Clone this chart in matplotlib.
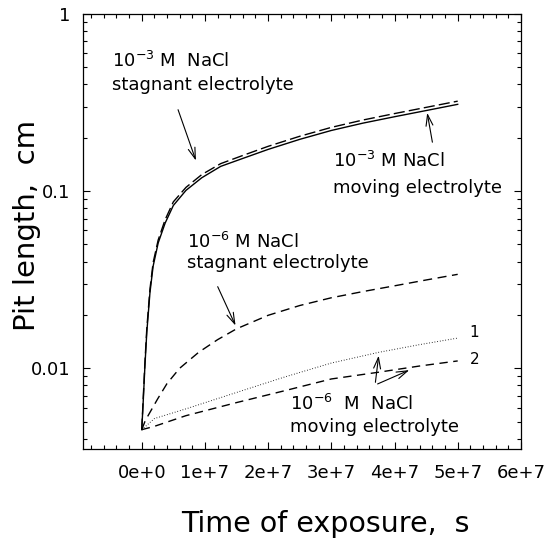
import matplotlib
matplotlib.use("Agg")
import matplotlib.pyplot as plt
from matplotlib.ticker import MultipleLocator, NullFormatter, LogLocator

# 曲線データ
t_1e3 = [0, 2.5e5, 5e5, 8e5, 1.3e6, 1.8e6, 2.6e6, 3.7e6, 5e6, 7e6, 9.5e6,
         1.25e7, 1.6e7, 2e7, 2.5e7, 3e7, 3.5e7, 4e7, 4.5e7, 5e7]
L_1e3_moving = [0.0045, 0.0067, 0.0103, 0.016, 0.0268, 0.0377, 0.051, 0.066,
                0.083, 0.101, 0.119, 0.138, 0.153, 0.172, 0.196, 0.220,
                0.242, 0.263, 0.285, 0.309]
L_1e3_stagnant = [0.0045, 0.0070, 0.0108, 0.0168, 0.028, 0.0395, 0.053, 0.069,
                  0.087, 0.105, 0.124, 0.143, 0.159, 0.179, 0.204, 0.229,
                  0.252, 0.274, 0.297, 0.322]

t_1e6_stag = [0, 5e5, 1e6, 2.5e6, 4e6, 6e6, 9e6, 1.2e7, 1.5e7, 2e7, 2.5e7, 3e7,
              3.5e7, 4e7, 4.5e7, 5e7]
L_1e6_stagnant = [0.0045, 0.0050, 0.0054, 0.0067, 0.0082, 0.0100, 0.0123, 0.0145,
                  0.0167, 0.0199, 0.0226, 0.0250, 0.0271, 0.0292, 0.0315, 0.0339]

t_1e6_mov = [0, 2e6, 7e6, 1.5e7, 2.25e7, 3e7, 3.75e7, 4.4e7, 5e7]
L_1e6_moving_1 = [0.0045, 0.0052, 0.0059, 0.0073, 0.0089, 0.0107, 0.0123, 0.0136, 0.0148]
L_1e6_moving_2 = [0.0045, 0.0047, 0.0054, 0.0064, 0.00745, 0.0087, 0.0095, 0.0103, 0.0110]

xticks = [0, 1e7, 2e7, 3e7, 4e7, 5e7, 6e7]
xtick_labels = ['0e+0', '1e+7', '2e+7', '3e+7', '4e+7', '5e+7', '6e+7']
yticks = [0.01, 0.1, 1]
ytick_labels = ['0.01', '0.1', '1']

# フォント設定
plt.rcParams['font.family'] = ['DejaVu Sans']
plt.rcParams['mathtext.fontset'] = 'dejavusans'

fig = plt.figure(figsize=(5.46, 5.38), dpi=100)
ax = fig.add_axes([0.152, 0.1654, 0.802, 0.8086])

ax.plot(t_1e3, L_1e3_moving, color='black', lw=1.0)
ax.plot(t_1e3, L_1e3_stagnant, color='black', lw=1.0, dashes=(8, 3))
ax.plot(t_1e6_stag, L_1e6_stagnant, color='black', lw=1.0, dashes=(6.5, 4))
ax.plot(t_1e6_mov, L_1e6_moving_1, color='black', lw=0.7, dashes=(0.8, 2))
ax.plot(t_1e6_mov, L_1e6_moving_2, color='black', lw=1.0, dashes=(6, 4))

ax.set_yscale('log')
ax.set_xlim(-0.93e7, 6e7)
ax.set_ylim(0.0035, 1)

ax.set_xticks(xticks, xtick_labels)
ax.xaxis.set_minor_locator(MultipleLocator(2e6))
ax.set_yticks(yticks, ytick_labels)
ax.yaxis.set_minor_locator(LogLocator(base=10, subs=range(2, 10)))
ax.yaxis.set_minor_formatter(NullFormatter())

ax.tick_params(which='both', direction='in', top=True, right=True, width=0.8)
ax.tick_params(which='major', length=5, labelsize=13)
ax.tick_params(axis='x', which='major', pad=11)
ax.tick_params(axis='y', which='major', pad=9)
ax.tick_params(which='minor', length=3)
for s in ax.spines.values():
    s.set_linewidth(0.9)

ax.set_xlabel('Time of exposure,  s', fontsize=20.5)
ax.set_ylabel('Pit length,  cm', fontsize=21)
ax.xaxis.set_label_coords(0.553, -0.14)
ax.yaxis.set_label_coords(-0.096, 0.515)

# 注釈
tk = dict(transform=ax.transAxes, fontsize=13, va='baseline', ha='left')
ax.text(0.066, 0.878, '10$^{-3}$ M  NaCl', **tk)
ax.text(0.066, 0.825, 'stagnant electrolyte', **tk)
ax.text(0.571, 0.648, '10$^{-3}$ M NaCl', **tk)
ax.text(0.571, 0.589, 'moving electrolyte', **tk)
ax.text(0.237, 0.461, '10$^{-6}$ M NaCl', **tk)
ax.text(0.237, 0.417, 'stagnant electrolyte', **tk)
ax.text(0.473, 0.090, '10$^{-6}$  M  NaCl', **tk)
ax.text(0.473, 0.039, 'moving electrolyte', **tk)
ax.text(0.893, 0.267, '1', transform=ax.transAxes, fontsize=11, ha='center', va='center')
ax.text(0.895, 0.205, '2', transform=ax.transAxes, fontsize=11, ha='center', va='center')

ap = dict(arrowstyle='->,head_length=0.8,head_width=0.25', color='black', lw=0.8)
arrows = [((0.260, 0.657), (0.215, 0.786)),
          ((0.785, 0.779), (0.799, 0.699)),
          ((0.351, 0.278), (0.305, 0.379)),
          ((0.676, 0.221), (0.667, 0.147)),
          ((0.751, 0.184), (0.667, 0.147))]
for head, tail in arrows:
    ax.annotate('', xy=head, xytext=tail, xycoords='axes fraction',
                textcoords='axes fraction', arrowprops=ap)

plt.savefig('out.png', dpi=100)
